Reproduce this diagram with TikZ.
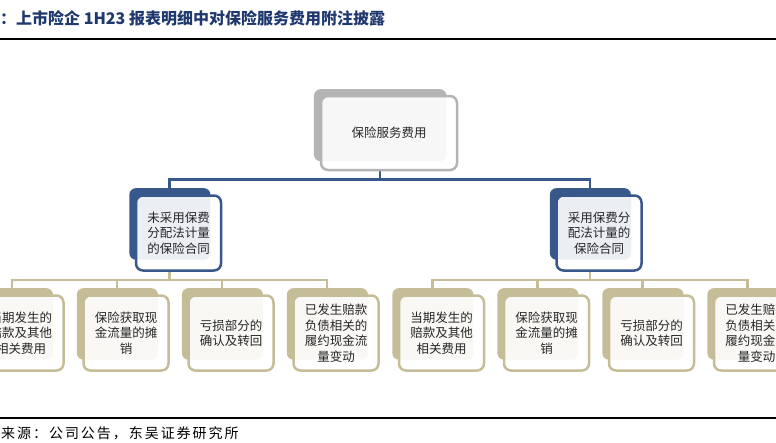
\documentclass[tikz,border=0pt]{standalone}
\usepackage{fontspec}
\setmainfont{Noto Sans CJK SC}
\newfontfamily\cjk{Noto Sans CJK SC}
\usepackage{tikz}
\usetikzlibrary{positioning,shadows,backgrounds}
\definecolor{titleblue}{RGB}{31,56,110}
\definecolor{midblue}{RGB}{56,88,140}
\definecolor{tan}{RGB}{196,189,151}
\definecolor{topgray}{RGB}{180,180,180}

\begin{document}
\begin{tikzpicture}[
    x=1pt, y=1pt,
    node distance=100pt,
    font=\cjk,
    box/.style={
		rectangle,
		rounded corners=7pt,
		line width=2.5pt,
		fill=white,
		fill opacity=0.9,
		text opacity=1,
		text=black!85,
		align=center,
		inner sep=0pt,
		minimum width=85pt,
		minimum height=75pt,
		font=\cjk\fontsize{12.5}{15.5}\selectfont
	},
	topbox/.style={
		box,
		draw=topgray,
		minimum width=136pt,
		minimum height=74pt,
		general shadow={shadow scale=0.975, shadow xshift=-9pt, shadow yshift=8pt,
			fill=topgray, fill opacity=1}
	},
	midbox/.style={
		box,
		draw=midblue,
		general shadow={shadow scale=0.955, shadow xshift=-9pt, shadow yshift=9.5pt,
			fill=midblue, fill opacity=1}
	},
	itembox/.style={
		box,
		draw=tan,
		general shadow={shadow scale=0.955, shadow xshift=-9pt, shadow yshift=9.5pt,
			fill=tan, fill opacity=1}
	},
	bluelink/.style={
		draw=midblue,
		line width=2.5pt
	},
	tanlink/.style={
		draw=tan,
		line width=2.5pt
	},
	rule/.style={
		draw=black,
		line width=1.3pt
	}
  ]
  \useasboundingbox (0,0) rectangle (776,-442);
  \clip (0,0) rectangle (776,-442);

    % title and source
  \node [anchor=west, inner sep=0pt, text=titleblue,
         font=\cjk\bfseries\fontsize{16}{18}\selectfont] (title) at (0,-18)
 {：上市险企 1H23 报表明细中对保险服务费用附注披露};
  \draw [rule] (0,-39) -- (776,-39);
  \draw [rule] (0,-418) -- (776,-418);
  \node [anchor=west, inner sep=0pt,
         font=\cjk\fontsize{14}{16}\addfontfeature{LetterSpace=14}\selectfont] (source) at (1,-433)
 {来源：公司公告，东吴证券研究所};

    % We start by placing the blocks
  \node [topbox] (cost) at (389,-133) {保险服务费用};

  \node [midbox, below of=cost, xshift=-210.5pt] (nopaa)
 {未采用保费\\分配法计量\\的保险合同};
  \node [midbox, below of=cost, xshift=210pt] (paa)
 {采用保费分\\配法计量的\\保险合同};

  \node [itembox, below of=nopaa, xshift=-157.5pt] (item1)
 {当期发生的\\赔款及其他\\相关费用};
  \node [itembox, below of=nopaa, xshift=-52.5pt] (item2)
 {保险获取现\\金流量的摊\\销};
  \node [itembox, below of=nopaa, xshift=52.5pt] (item3)
 {亏损部分的\\确认及转回};
  \node [itembox, below of=nopaa, xshift=157.5pt] (item4)
 {已发生赔款\\负债相关的\\履约现金流\\量变动};

  \node [itembox, below of=paa, xshift=-157.5pt] (item5)
 {当期发生的\\赔款及其他\\相关费用};
  \node [itembox, below of=paa, xshift=-52.5pt] (item6)
 {保险获取现\\金流量的摊\\销};
  \node [itembox, below of=paa, xshift=52.5pt] (item7)
 {亏损部分的\\确认及转回};
  \node [itembox, below of=paa, xshift=157.5pt] (item8)
 {已发生赔款\\负债相关的\\履约现金流\\量变动};

  \begin{scope}[on background layer]
 \draw [bluelink] ([xshift=-9pt]cost.south) -- ++(0,-8) coordinate (forktop) -| ([xshift=-9pt]nopaa.north);
 \draw [bluelink] (forktop) -| ([xshift=-9pt]paa.north);
 \draw [tanlink] ([xshift=-9pt]nopaa.south) -- ++(0,-8) coordinate (forkleft) -| ([xshift=-9pt]item1.north);
 \draw [tanlink] (forkleft) -| ([xshift=-9pt]item2.north);
 \draw [tanlink] (forkleft) -| ([xshift=-9pt]item3.north);
 \draw [tanlink] (forkleft) -| ([xshift=-9pt]item4.north);
 \draw [tanlink] ([xshift=-9pt]paa.south) -- ++(0,-8) coordinate (forkright) -| ([xshift=-9pt]item5.north);
 \draw [tanlink] (forkright) -| ([xshift=-9pt]item6.north);
 \draw [tanlink] (forkright) -| ([xshift=-9pt]item7.north);
 \draw [tanlink] (forkright) -| ([xshift=-9pt]item8.north);
  \end{scope}

\end{tikzpicture}
\end{document}
